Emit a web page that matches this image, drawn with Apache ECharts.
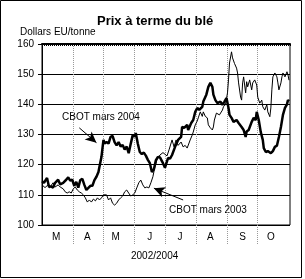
<!DOCTYPE html>
<html><head><meta charset="utf-8">
<script src="https://cdn.jsdelivr.net/npm/echarts@6/dist/echarts.min.js"></script>
<style>html,body{margin:0;padding:0;background:#fff}#c{width:305px;height:279px}</style>
</head><body><div id="c"></div>
<script>
const title = 'Prix à terme du blé';
const unitLabel = 'Dollars EU/tonne';
const periodLabel = '2002/2004';
const monthNames = ['M','A','M','J','J','A','S','O'];
const monthLabelDays = [14,45,73,107,137,167,199,227];
const monthStartDays = [31,61,92,122,153,184,214];
const yMin = 100, yMax = 160, yStep = 10;
const dayMax = 246;

const days2004 = [0,2,5,7,9,11,13,16,18,21,24,26,28,30,32,34,36,38,40,42,44,46,48,50,52,54,56,57,59,60,61,62,64,66,68,70,72,74,76,78,80,82,84,86,88,90,92,93,95,97,99,101,103,105,107,109,111,113,115,117,120,122,125,127,129,132,135,138,139,141,144,145,148,150,152,154,156,159,160,163,165,167,169,170,172,174,177,179,181,183,185,186,188,190,193,195,198,200,202,203,205,208,210,212,213,215,217,219,220,222,224,227,229,231,233,235,237,239,241,243,244,245];
const values2004 = [114.5,114,115.6,112.6,112.8,112.4,114,115,113.5,114,115,115.8,114.7,115,113,114.3,112.4,114.9,115.3,113.3,111.6,112.3,113,113,114.9,116,117.6,119.3,122.6,125.5,128.2,127,127.5,127,129.2,129.5,127.5,126.4,127.5,126,126.5,125,126,123.8,126.9,129.8,129.3,130.5,127,124.2,123.5,124,123,121.6,120.5,117.6,118.5,121.5,122.6,122.4,120.5,119,122.2,122,123.2,125.9,128.2,129.2,132.5,132.2,133.2,131.5,133.8,134.8,137.5,138.8,138.2,139.2,140.9,143.2,145.8,147.1,145.8,143.2,141.4,140.4,140.9,139.8,140.9,142.1,138.8,136.5,135.5,134.2,134.8,133.8,132.5,131.5,129.2,131,131.5,134.2,135.5,134.8,137.5,134.8,130.8,128.2,125.5,124.2,124.5,123.8,124.5,125.9,126.3,129.2,132.5,136.5,138.8,140,141.4,141];

const days2003 = [0,3,6,8,11,13,16,18,21,23,25,27,29,31,33,35,37,39,41,43,45,47,49,51,53,55,57,59,61,62,64,66,68,70,72,74,76,78,80,82,84,86,88,90,92,94,96,98,100,102,104,106,108,110,112,114,117,120,124,126,129,131,133,135,138,140,142,144,145,147,149,150,152,154,155,157,159,160,162,164,165,167,169,170,171,173,174,176,179,180,182,184,185,186,188,189,191,193,194,195,197,198,199,200,201,202,203,204,206,208,209,211,213,214,216,218,219,221,223,224,226,227,228,229,231,233,234,235,237,238,239,241,243,244,245];
const values2003 = [113.3,112.4,113.3,112.6,114,112.6,113.3,112.6,112,111,110.6,111,110.6,112,112.6,111.6,111,110.6,110,109,107.6,108.3,107.6,108.6,108,109,108.3,109,110,110.6,110,108.3,109,107.2,106.6,107.2,108.3,109,109.6,111,111.6,110.6,109.6,110,110.6,112.3,114,114.9,113.3,112.3,112.6,112.3,114,116,119.3,121.6,123.2,124,122.9,124.9,128.2,125.9,128.2,126.4,127.5,125.9,126.4,125.5,125.9,128.2,129.8,130.8,133.2,134.5,135.5,137.5,136,137.5,136,135.5,133.2,132.2,131.5,132.5,134.8,137.1,137.5,136.5,138.1,139.2,139.9,143.8,148.1,153.7,157.4,155.4,153.5,152,150.4,147.1,142.4,141.4,147.1,149.1,146.4,143.8,147.5,145.8,148.1,144.8,147.1,148.1,146.4,142.4,140.4,141.4,139.2,138.1,139.9,137.5,135.9,138.8,144.8,149.1,150.4,149.1,147.1,144.8,147.1,149.1,150.4,149.1,150.8,149.8,148];

const label2004 = 'CBOT mars 2004';
const label2003 = 'CBOT mars 2003';
const arrow2004 = [[37,132.2],[54,127.3]];
const arrow2003 = [[140,108.3],[111,112.2]];

const zip = (xs, ys) => xs.map((x, i) => [x, ys[i]]);
const FONT = 'Liberation Sans, Arial, sans-serif';

const chart = echarts.init(document.getElementById('c'), null, {renderer: 'canvas'});
chart.setOption({
  animation: false,
  backgroundColor: '#fff',
  textStyle: {fontFamily: FONT, color: '#000'},
  grid: [
    {left: 42, top: 44, width: 248, height: 181, show: true, borderColor: '#000', borderWidth: 1, containLabel: false},
    {left: 42, top: 225, width: 248, height: 20, show: false, containLabel: false}
  ],
  xAxis: [
    {
      type: 'value', gridIndex: 0, min: 0, max: dayMax,
      axisLine: {show: false},
      axisTick: {show: false, customValues: monthStartDays},
      axisLabel: {show: true, customValues: monthLabelDays, margin: 7,
        fontSize: 10, color: '#000', fontFamily: FONT,
        formatter: v => monthNames[monthLabelDays.indexOf(v)] || ''},
      splitLine: {show: true, lineStyle: {color: '#999', type: [1, 1], width: 1}}
    },
    {
      type: 'value', gridIndex: 1, min: 0, max: dayMax,
      axisLine: {show: false},
      axisTick: {show: false, customValues: monthStartDays},
      axisLabel: {show: false},
      splitLine: {show: true, lineStyle: {color: '#999', type: [1, 1], width: 1}}
    },
    {
      type: 'value', gridIndex: 0, min: 0, max: dayMax, interval: 2,
      axisLine: {show: true, onZero: false, lineStyle: {color: '#000', width: 2}},
      axisTick: {show: true, inside: true, length: 2, lineStyle: {color: '#000', width: 1}},
      axisLabel: {show: false},
      splitLine: {show: false}
    }
  ],
  yAxis: [
    {
      type: 'value', gridIndex: 0, min: yMin, max: yMax, interval: yStep,
      axisLine: {show: true, lineStyle: {color: '#000', width: 1}},
      axisTick: {show: true, length: 4, lineStyle: {color: '#000'}},
      axisLabel: {fontSize: 10, color: '#000', margin: 8, fontFamily: FONT},
      splitLine: {show: true, lineStyle: {color: '#000', width: 1}}
    },
    {type: 'value', gridIndex: 1, min: 0, max: 1, show: false}
  ],
  graphic: [
    {type: 'rect', shape: {x: 0.5, y: 0.5, width: 301, height: 277}, style: {fill: null, stroke: '#000', lineWidth: 1}, silent: true},
    {type: 'text', left: 97, top: 15, style: {text: title, font: 'bold 13px ' + FONT, fill: '#000'}},
    {type: 'text', left: 20, top: 27, style: {text: unitLabel, font: '10px ' + FONT, fill: '#000'}},
    {type: 'text', left: 131, top: 251, style: {text: periodLabel, font: '10px ' + FONT, fill: '#000'}},
    {type: 'text', left: 62, top: 112, style: {text: label2004, font: '10px ' + FONT, fill: '#000'}},
    {type: 'text', left: 169, top: 205, style: {text: label2003, font: '10px ' + FONT, fill: '#000'}}
  ],
  series: [
    {
      name: label2003, type: 'line', xAxisIndex: 0, yAxisIndex: 0,
      data: zip(days2003, values2003), showSymbol: false, symbol: 'none',
      lineStyle: {color: '#000', width: 1}, z: 3,
      markLine: {silent: true, symbol: ['none', 'arrow'], symbolSize: [8, 11],
        label: {show: false}, lineStyle: {color: '#000', width: 1, type: 'solid'},
        data: [[{coord: arrow2003[0]}, {coord: arrow2003[1]}]]}
    },
    {
      name: label2004, type: 'line', xAxisIndex: 0, yAxisIndex: 0,
      data: zip(days2004, values2004), showSymbol: false, symbol: 'none',
      lineStyle: {color: '#000', width: 2.5}, z: 4,
      markLine: {silent: true, symbol: ['none', 'arrow'], symbolSize: [8, 11],
        label: {show: false}, lineStyle: {color: '#000', width: 1, type: 'solid'},
        data: [[{coord: arrow2004[0]}, {coord: arrow2004[1]}]]}
    }
  ]
});
</script></body></html>
